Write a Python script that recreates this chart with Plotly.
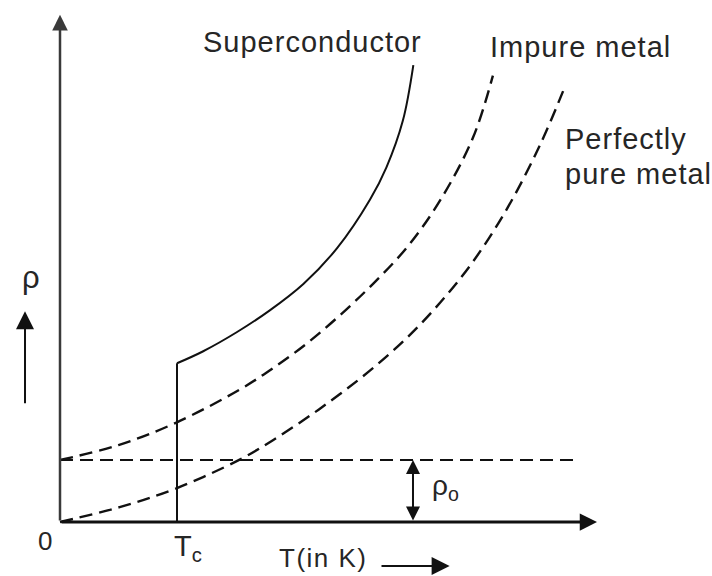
import plotly.graph_objects as go

# Temperature is measured in units of Tc, resistivity in units of rho_0
T_C = 1.0
RHO_0 = 1.0

pure_T = [0.0, 0.51, 0.99, 1.54, 1.82, 2.11, 2.39, 2.68, 2.97, 3.25, 3.53, 3.82, 4.10, 4.30]
pure_rho = [0.0, 0.24, 0.54, 1.01, 1.32, 1.68, 2.06, 2.49, 2.98, 3.54, 4.20, 5.05, 6.07, 6.95]

impure_T = [0.0, 0.50, 0.99, 1.54, 1.82, 2.11, 2.39, 2.68, 2.97, 3.25, 3.53, 3.70]
impure_rho = [1.00, 1.24, 1.60, 2.14, 2.48, 2.88, 3.33, 3.85, 4.44, 5.19, 6.20, 7.20]

super_T = [1.00, 1.00, 1.22, 1.51, 1.79, 2.08, 2.37, 2.65, 2.79, 2.93, 3.02]
super_rho = [0.00, 2.56, 2.75, 3.06, 3.41, 3.84, 4.42, 5.20, 5.72, 6.47, 7.37]

residual_T = [0.0, 4.40]
residual_rho = [RHO_0, RHO_0]

T_AXIS_END = 4.59
RHO_AXIS_END = 8.18

INK = "#111111"
TEXT = "#262626"
FONT = "Liberation Sans, Arial, sans-serif"
DASH = "13px,7px"

fig = go.Figure()

# residual resistivity level
fig.add_trace(go.Scatter(x=residual_T, y=residual_rho, mode="lines",
                         line=dict(color=INK, width=2, dash=DASH)))
# perfectly pure metal
fig.add_trace(go.Scatter(x=pure_T, y=pure_rho, mode="lines", line_shape="spline",
                         line=dict(color=INK, width=2.4, dash=DASH)))
# impure metal
fig.add_trace(go.Scatter(x=impure_T, y=impure_rho, mode="lines", line_shape="spline",
                         line=dict(color=INK, width=2.4, dash=DASH)))
# superconductor: jump at Tc, then the normal-state curve
fig.add_trace(go.Scatter(x=super_T[:2], y=super_rho[:2], mode="lines",
                         line=dict(color=INK, width=2)))
fig.add_trace(go.Scatter(x=super_T[1:], y=super_rho[1:], mode="lines", line_shape="spline",
                         line=dict(color=INK, width=2)))


def arrow(x, y, ax, ay, width, size, color=INK, side="end"):
    fig.add_annotation(x=x, y=y, ax=ax, ay=ay, xref="x", yref="y", axref="x", ayref="y",
                       text="", showarrow=True, arrowhead=2, startarrowhead=2,
                       arrowside=side, arrowwidth=width, arrowsize=size,
                       startarrowsize=size, arrowcolor=color, standoff=0, startstandoff=0)


def label(x, y, text, size=27, xanchor="center", yanchor="middle", spacing=1.0):
    fig.add_annotation(x=x, y=y, xref="x", yref="y",
                       text=f'<span style="letter-spacing:{spacing}px">{text}</span>',
                       showarrow=False, xanchor=xanchor, yanchor=yanchor,
                       font=dict(family=FONT, size=size, color=TEXT))


# axes
arrow(T_AXIS_END, 0, 0, 0, 3, 1.15, INK)
arrow(0, RHO_AXIS_END, 0, 0, 2.5, 1.25, "#3a3a3a")
# rho_0 marker
arrow(3.017, RHO_0, 3.017, 0, 2, 1.4, INK, side="end+start")
# direction arrows beside axis titles
arrow(-0.299, 3.40, -0.299, 1.89, 2, 1.8)
arrow(3.33, -0.71, 2.735, -0.71, 2, 1.8)

label(2.16, 7.74, "Superconductor", 29)
label(4.45, 7.66, "Impure metal", 29)
label(4.30, 6.17, "Perfectly", 29, xanchor="left")
label(4.30, 5.62, "pure metal", 29, xanchor="left")
label(-0.128, -0.31, "0", 26, spacing=0)
label(0.957, -0.42, "T<sub>c</sub>", 29, xanchor="left", spacing=0)
label(2.25, -0.585, "T(in K)", 26, spacing=1.5)
label(-0.248, 3.94, "ρ", 31, spacing=0)
label(3.16, 0.55, "ρ<sub>o</sub>", 28, xanchor="left", spacing=0)

fig.update_layout(
    width=712, height=576,
    margin=dict(l=0, r=0, t=0, b=0),
    paper_bgcolor="white", plot_bgcolor="white",
    showlegend=False,
    xaxis=dict(range=[-0.5128, 5.5726], visible=False, fixedrange=True),
    yaxis=dict(range=[-0.871, 8.419], visible=False, fixedrange=True),
)

fig.write_html("out.html")
